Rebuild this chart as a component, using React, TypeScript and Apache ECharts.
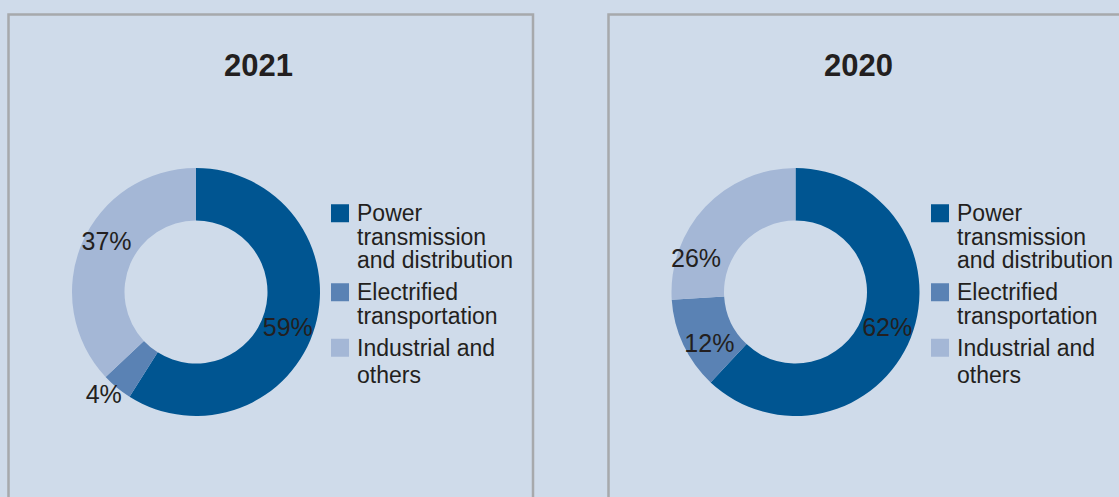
import React, { useEffect, useRef } from "react";
import * as echarts from "echarts";

const categories = [
  "Power transmission and distribution",
  "Electrified transportation",
  "Industrial and others",
];
const legendLines = [
  ["Power", "transmission", "and distribution"],
  ["Electrified", "transportation"],
  ["Industrial and", "others"],
];
const years = ["2021", "2020"];
const values2021 = [59, 4, 37];
const values2020 = [62, 12, 26];
const labelShift2021 = [[-5, 7], [-28, 24], [3, -11]];
const labelShift2020 = [[-2, -2], [5, 8], [-26, 35]];

const colors = ["#005591", "#5a82b4", "#a4b7d6"];
const BG = "#cfdbea";
const BORDER = "#a7a9ac";
const TEXT = "#231f20";
const FONT = '"Liberation Sans", Arial, Helvetica, sans-serif';

export default function App() {
  const ref = useRef<HTMLDivElement>(null);

  useEffect(() => {
    document.body.style.margin = "0";
    if (!ref.current) return;
    const chart = echarts.init(ref.current, null, { renderer: "svg" });

    const panelLefts = [8.5, 608.5];
    const pieCenters = [
      [196, 292],
      [795.5, 292],
    ];
    const legendLefts = [326, 926];
    const datasets = [values2021, values2020];
    const shifts = [labelShift2021, labelShift2020];

    const formatter = (name: string) => {
      const i = categories.indexOf(name);
      return legendLines[i]
        .map((l, k) =>
          k === 0 ? `{s${i}| }{t|${l}}` : `{${i === 2 ? "u" : "i"}|${l}}`
        )
        .join("\n");
    };

    const LFS = 23;
    const rich: any = {
      t: { fontSize: LFS, fontFamily: FONT, color: TEXT, lineHeight: 23.5, padding: [0, 0, 0, 8] },
      i: { fontSize: LFS, fontFamily: FONT, color: TEXT, lineHeight: 23.5, padding: [0, 0, 0, 26] },
      u: { fontSize: LFS, fontFamily: FONT, color: TEXT, lineHeight: 30.5, padding: [0, 0, 0, 26] },
    };
    colors.forEach((c, i) => {
      rich["s" + i] = { width: 18, height: 18, backgroundColor: c, lineHeight: 23.5, fontSize: LFS };
    });

    const option: any = {
      animation: false,
      backgroundColor: BG,
      color: colors,
      graphic: [
        ...panelLefts.map((x) => ({
          type: "rect",
          silent: true,
          z: 0,
          shape: { x, y: 14.5, width: 524.5, height: 600 },
          style: { fill: "none", stroke: BORDER, lineWidth: 2.5 },
        })),
        ...panelLefts.map((x, k) => ({
          type: "text",
          silent: true,
          x: x + 250,
          y: 65,
          style: {
            text: years[k],
            fontSize: 31,
            fontWeight: "bold",
            fontFamily: FONT,
            fill: TEXT,
            align: "center",
            verticalAlign: "middle",
            textAlign: "center",
            textVerticalAlign: "middle",
          },
        })),
      ],
      legend: legendLefts.map((left) => ({
        orient: "vertical",
        left,
        top: 201.5,
        padding: 0,
        itemGap: 8.5,
        itemWidth: 0,
        itemHeight: 0,
        selectedMode: false,
        itemStyle: { opacity: 0 },
        data: categories,
        formatter,
        textStyle: { fontSize: LFS, fontFamily: FONT, color: TEXT, lineHeight: 23.5, rich },
      })),
      series: datasets.map((vals, k) => ({
        type: "pie",
        center: pieCenters[k],
        radius: [71.5, 124],
        startAngle: 90,
        clockwise: true,
        silent: true,
        avoidLabelOverlap: false,
        emphasis: { disabled: true },
        labelLine: { show: false },
        label: {
          show: true,
          position: "inside",
          formatter: "{c}%",
          fontSize: 25,
          fontFamily: FONT,
          color: TEXT,
        },
        labelLayout: (params: any) => {
          const s = shifts[k][params.dataIndex];
          return { dx: s[0], dy: s[1] };
        },
        data: categories.map((name, i) => ({ name, value: vals[i] })),
      })),
    };

    chart.setOption(option);
    return () => chart.dispose();
  }, []);

  return <div ref={ref} style={{ width: 1119, height: 497 }} />;
}
